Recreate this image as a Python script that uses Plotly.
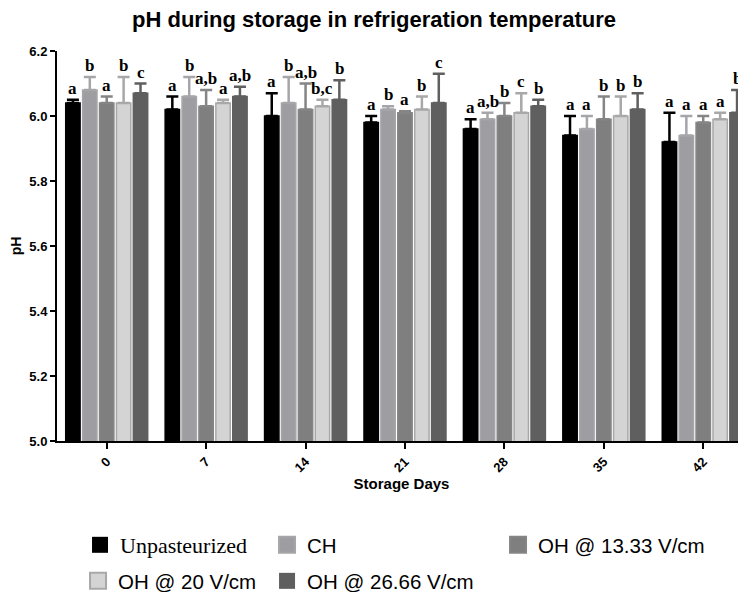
import plotly.graph_objects as go

days = ["0", "7", "14", "21", "28", "35", "42"]

unpast = [6.04, 6.02, 6.00, 5.98, 5.96, 5.94, 5.92]
unpast_err = [0.01, 0.04, 0.07, 0.02, 0.03, 0.06, 0.09]
unpast_lab = ["a", "a", "a", "a", "a", "a", "a"]

ch = [6.08, 6.06, 6.04, 6.02, 5.99, 5.96, 5.94]
ch_err = [0.04, 0.06, 0.08, 0.01, 0.02, 0.04, 0.06]
ch_lab = ["b", "b", "b", "b", "a,b", "a", "a"]

oh13 = [6.04, 6.03, 6.02, 6.01, 6.00, 5.99, 5.98]
oh13_err = [0.02, 0.05, 0.08, 0.005, 0.04, 0.07, 0.02]
oh13_lab = ["a", "a,b", "a,b", "a", "b", "b", "a"]

oh20 = [6.04, 6.04, 6.03, 6.02, 6.01, 6.00, 5.99]
oh20_err = [0.08, 0.01, 0.02, 0.04, 0.06, 0.06, 0.02]
oh20_lab = ["b", "a", "b,c", "b", "c", "b", "a"]

oh26 = [6.07, 6.06, 6.05, 6.04, 6.03, 6.02, 6.01]
oh26_err = [0.03, 0.03, 0.06, 0.09, 0.02, 0.05, 0.07]
oh26_lab = ["c", "a,b", "b", "c", "b", "b", "b"]

# name, values, errors, letters, fill, edge, legend id, legend x/y (container)
series = [
    ('<span style="font-family:Liberation Serif;font-size:22px">Unpasteurized</span>',
     unpast, unpast_err, unpast_lab, "#000000", "#000000", "legend", 0.0976, 0.0805),
    ("CH", ch, ch_err, ch_lab, "#9e9ea2", "#a6a6aa", "legend2", 0.351, 0.0805),
    ("OH @ 13.33 V/cm", oh13, oh13_err, oh13_lab, "#7f7f7f", "#858585", "legend3", 0.664, 0.0805),
    ("OH @ 20 V/cm", oh20, oh20_err, oh20_lab, "#d4d4d4", "#a8a8a8", "legend4", 0.0949, 0.0188),
    ("OH @ 26.66 V/cm", oh26, oh26_err, oh26_lab, "#5f5f5f", "#5f5f5f", "legend5", 0.351, 0.0188),
]

bargap = 0.15
n = len(series)
slot = (1 - bargap) / n

fig = go.Figure()
annotations = []
legends = {}
for k, (name, vals, errs, labs, fill, edge, leg, lx, ly) in enumerate(series):
    fig.add_trace(go.Bar(
        x=days, y=vals, name=name, showlegend=False,
        marker=dict(color=fill, line=dict(color=edge, width=1.5)),
        error_y=dict(type="data", symmetric=False, array=errs,
                     arrayminus=[0] * len(errs), color=edge, thickness=2.5, width=6),
    ))
    # legend entry with a bigger square than the default bar swatch
    fig.add_trace(go.Scatter(
        x=[None], y=[None], mode="markers", name=name, legend=leg,
        marker=dict(symbol="square", size=16, color=fill,
                    line=dict(color=edge, width=2 if fill != edge else 0)),
    ))
    legends[leg] = dict(orientation="h", xref="container", yref="container",
                        x=lx, y=ly, xanchor="left", yanchor="middle",
                        font=dict(size=20.5), itemsizing="trace",
                        bgcolor="rgba(0,0,0,0)")
    for i, (v, e, t) in enumerate(zip(vals, errs, labs)):
        annotations.append(dict(
            x=i + (k - (n - 1) / 2) * slot, y=v + e, xref="x", yref="y",
            text=t, showarrow=False, yanchor="bottom", yshift=0,
            font=dict(family="Liberation Serif", size=17, color="black", weight="bold"),
        ))

# the page body adds an 8px margin, so the figure is drawn 8px smaller
fig.update_layout(
    width=738, height=584,
    margin=dict(l=49, r=0, t=43, b=151, autoexpand=False),
    plot_bgcolor="white", paper_bgcolor="white",
    barmode="group", bargap=bargap, bargroupgap=0.15,
    title=dict(text="<b>pH during storage in refrigeration temperature</b>",
               x=0.496, xanchor="center", yref="container", y=0.981, yanchor="middle",
               font=dict(family="Liberation Sans", size=22, color="black")),
    font=dict(family="Liberation Sans", color="black"),
    annotations=annotations,
    **legends,
)

fig.update_xaxes(
    type="category", range=[-0.5, 6.43], automargin=False,
    showline=True, linecolor="black", linewidth=2,
    ticks="outside", ticklen=6, tickwidth=2, tickcolor="black",
    tickangle=-45, tickfont=dict(size=13, weight="bold"),
    title=dict(text="<b>Storage Days</b>", font=dict(size=15), standoff=2),
    showgrid=False,
)
fig.update_yaxes(
    range=[5.0, 6.2], automargin=False,
    tickvals=[5.0, 5.2, 5.4, 5.6, 5.8, 6.0, 6.2],
    ticktext=["5.0", "5.2", "5.4", "5.6", "5.8", "6.0", "6.2"],
    showline=True, linecolor="black", linewidth=2,
    ticks="outside", ticklen=5, tickwidth=2, tickcolor="black",
    tickfont=dict(size=13, weight="bold"),
    title=dict(text="<b>pH</b>", font=dict(size=14), standoff=4),
    showgrid=False, zeroline=False,
)

fig.write_html("out.html")
